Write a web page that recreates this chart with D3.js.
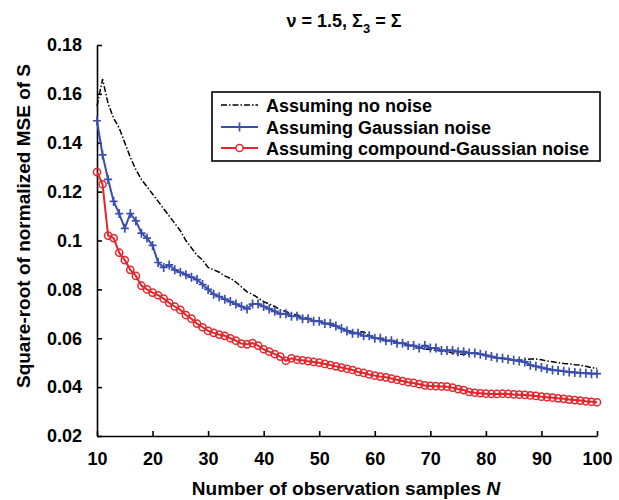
<!DOCTYPE html>
<html><head><meta charset="utf-8">
<script src="https://cdn.jsdelivr.net/npm/d3@7"></script>
<style>body{margin:0;background:#fff}svg{display:block}text{font-family:"Liberation Sans",Arial,sans-serif;font-weight:bold}</style>
</head><body>
<svg id="c" width="619" height="500"></svg>
<script>
const Nstart = 10;
const xTicks = [10,20,30,40,50,60,70,80,90,100];
const yTicks = [0.02,0.04,0.06,0.08,0.1,0.12,0.14,0.16,0.18];
const seriesNames = ["Assuming no noise","Assuming Gaussian noise","Assuming compound-Gaussian noise"];
const noNoise = [0.155,0.166,0.156,0.150,0.146,0.140,0.134,0.129,0.125,0.122,
0.119,0.116,0.113,0.110,0.107,0.104,0.100,0.097,0.094,0.092,
0.089,0.088,0.087,0.0855,0.0845,0.083,0.081,0.079,0.078,0.0765,
0.075,0.074,0.073,0.0715,0.071,0.070,0.0695,0.069,0.068,0.0675,
0.067,0.066,0.0655,0.065,0.064,0.063,0.0625,0.0625,0.0627,0.061,
0.060,0.0595,0.0593,0.059,0.0585,0.058,0.0575,0.057,0.0562,0.0555,
0.0555,0.055,0.0548,0.0545,0.054,0.0535,0.0535,0.0535,0.054,0.0535,
0.053,0.0525,0.052,0.0518,0.0515,0.0512,0.051,0.0512,0.0515,0.0515,
0.0512,0.0507,0.0504,0.050,0.0497,0.0495,0.0492,0.049,0.0485,0.048,0.0477];
const gaussian = [0.149,0.135,0.125,0.116,0.111,0.105,0.111,0.108,0.103,0.101,
0.098,0.091,0.089,0.090,0.088,0.087,0.086,0.085,0.084,0.082,
0.080,0.078,0.077,0.076,0.075,0.074,0.073,0.072,0.074,0.074,
0.073,0.072,0.071,0.070,0.070,0.069,0.069,0.068,0.068,0.067,
0.067,0.066,0.066,0.065,0.064,0.063,0.062,0.062,0.061,0.061,
0.060,0.060,0.059,0.059,0.058,0.058,0.057,0.057,0.056,0.057,
0.056,0.056,0.055,0.055,0.055,0.0545,0.0545,0.054,0.054,0.0535,
0.053,0.0525,0.052,0.0518,0.0514,0.051,0.0507,0.0503,0.049,0.0485,
0.048,0.0475,0.047,0.0468,0.0465,0.0462,0.046,0.0458,0.0457,0.0455,0.0455];
const compound = [0.128,0.123,0.102,0.101,0.095,0.092,0.088,0.0855,0.0815,0.080,
0.0787,0.0776,0.0762,0.0745,0.073,0.0716,0.0695,0.068,0.066,0.0645,
0.063,0.0622,0.0615,0.061,0.060,0.059,0.0578,0.0575,0.058,0.057,
0.0555,0.0545,0.0535,0.0525,0.0508,0.0518,0.0512,0.051,0.0506,0.0503,
0.050,0.0495,0.049,0.0485,0.048,0.0475,0.047,0.0462,0.0458,0.0452,
0.0447,0.0443,0.044,0.0435,0.043,0.0425,0.042,0.0417,0.0412,0.0407,
0.0405,0.0404,0.0403,0.0402,0.0398,0.0392,0.0388,0.038,0.0377,0.0375,
0.0373,0.0372,0.0372,0.0373,0.0372,0.037,0.0369,0.0368,0.0366,0.0364,
0.0361,0.0359,0.0357,0.0354,0.0352,0.0349,0.0347,0.0345,0.0342,0.034,0.0338];

const svg = d3.select("#c");
const L=97, R=597, T=45, B=436;
const BLUE="#3a4eae", RED="#e6262c";
const x = d3.scaleLinear().domain([10,100]).range([L,R]);
const y = d3.scaleLinear().domain([0.02,0.18]).range([B,T]);
const toPts = arr => arr.map((v,i)=>[Nstart+i,v]);
const line = d3.line().x(d=>x(d[0])).y(d=>y(d[1]));

// axes
const xa = svg.append("g").attr("transform",`translate(0,${B})`)
  .call(d3.axisBottom(x).tickValues(xTicks).tickSizeInner(-5).tickSizeOuter(0).tickPadding(16).tickFormat(d3.format("d")));
const ya = svg.append("g").attr("transform",`translate(${L},0)`)
  .call(d3.axisLeft(y).tickValues(yTicks).tickSizeInner(-5).tickSizeOuter(0).tickPadding(15).tickFormat(d=>d===0.1?"0.1":d3.format(".2f")(d)));
[xa,ya].forEach(a=>{a.selectAll("path,line").attr("stroke","#000").attr("stroke-width",1.6);
  a.selectAll("text").attr("fill","#000").style("font-size","18px").style("font-weight","bold").style("font-family","Liberation Sans, Arial, sans-serif");});

// series
svg.append("path").datum(toPts(noNoise)).attr("d",line).attr("fill","none")
  .attr("stroke","#000").attr("stroke-width",1.5).attr("stroke-dasharray","6,2,1.5,2");
svg.append("path").datum(toPts(gaussian)).attr("d",line).attr("fill","none")
  .attr("stroke",BLUE).attr("stroke-width",2);
svg.append("g").selectAll("path").data(toPts(gaussian)).join("path")
  .attr("d",d=>`M${x(d[0])-4},${y(d[1])}h8M${x(d[0])},${y(d[1])-4.5}v9`)
  .attr("stroke",BLUE).attr("stroke-width",1.7);
svg.append("path").datum(toPts(compound)).attr("d",line).attr("fill","none")
  .attr("stroke",RED).attr("stroke-width",2);
svg.append("g").selectAll("circle").data(toPts(compound)).join("circle")
  .attr("cx",d=>x(d[0])).attr("cy",d=>y(d[1])).attr("r",3.6)
  .attr("fill","none").attr("stroke",RED).attr("stroke-width",1.5);

// legend
const lg = svg.append("g");
lg.append("rect").attr("x",212).attr("y",92).attr("width",388).attr("height",69)
  .attr("fill","#fff").attr("stroke","#000").attr("stroke-width",1.6);
const rows=[105,127,148];
const lx0=221,lx1=258;
lg.append("line").attr("x1",lx0).attr("x2",lx1).attr("y1",rows[0]).attr("y2",rows[0])
  .attr("stroke","#000").attr("stroke-width",1.5).attr("stroke-dasharray","6,2,1.5,2");
lg.append("line").attr("x1",lx0).attr("x2",lx1).attr("y1",rows[1]).attr("y2",rows[1])
  .attr("stroke",BLUE).attr("stroke-width",2);
lg.append("path").attr("d",`M${(lx0+lx1)/2-4},${rows[1]}h8M${(lx0+lx1)/2},${rows[1]-4.5}v9`)
  .attr("stroke",BLUE).attr("stroke-width",1.7);
lg.append("line").attr("x1",lx0).attr("x2",lx1).attr("y1",rows[2]).attr("y2",rows[2])
  .attr("stroke",RED).attr("stroke-width",2);
lg.append("circle").attr("cx",(lx0+lx1)/2).attr("cy",rows[2]).attr("r",3.6)
  .attr("fill","#fff").attr("stroke",RED).attr("stroke-width",1.5);
seriesNames.forEach((s,i)=>lg.append("text").attr("x",266).attr("y",rows[i]+6.5)
  .style("font-size","18px").text(s));

// title
const t = svg.append("text").attr("x",344).attr("y",27).attr("text-anchor","middle").style("font-size","18px");
t.append("tspan").text("\u03BD = 1.5, \u03A3");
t.append("tspan").attr("dy",6).style("font-size","13px").text("3");
t.append("tspan").attr("dy",-6).text(" = \u03A3");

// axis titles
const xl = svg.append("text").attr("x",346).attr("y",495).attr("text-anchor","middle").style("font-size","19px");
xl.append("tspan").text("Number of observation samples ");
xl.append("tspan").style("font-style","italic").text("N");
svg.append("text").attr("transform","translate(30,226) rotate(-90)").attr("text-anchor","middle")
  .style("font-size","19px").text("Square-root of normalized MSE of S");
</script>
</body></html>
